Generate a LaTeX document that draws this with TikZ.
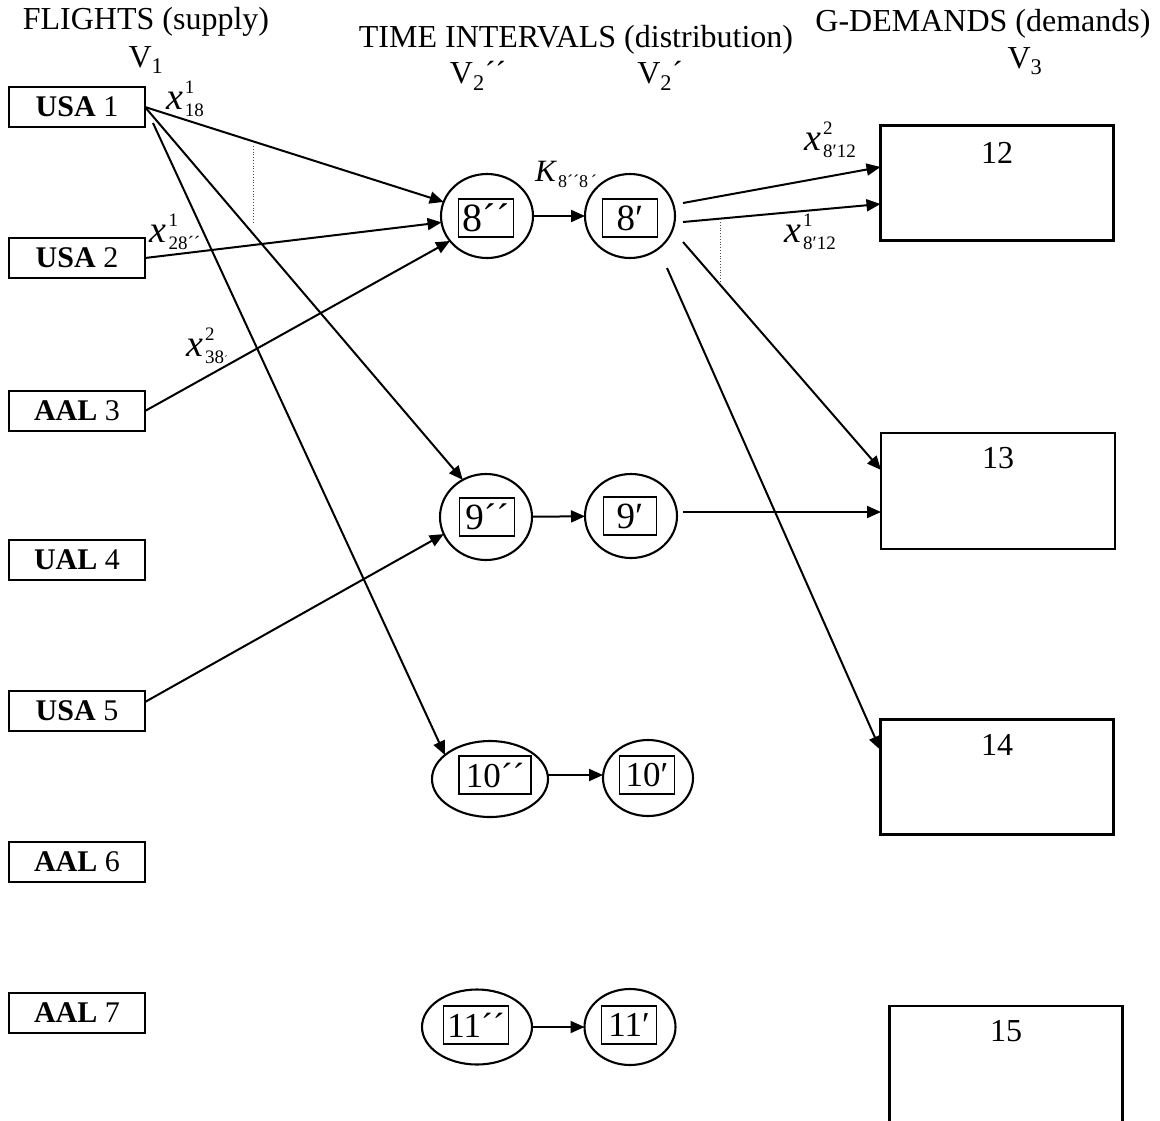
\documentclass[tikz,border=0pt]{standalone}
\usepackage{fontspec}
\setmainfont{Liberation Serif}
\usetikzlibrary{arrows.meta,shapes.geometric}

\newcommand{\fsz}[1]{\fontsize{#1}{#1}\selectfont}
\newcommand{\scr}[1]{{\fontsize{19}{20}\selectfont #1}}
\newcommand{\tinyacute}{{\fontsize{11}{11}\selectfont ´}}
% italic letter with a superscript stacked over a subscript
\newcommand{\flowvar}[3]{\textit{#1}\kern2pt\rlap{\raisebox{16pt}{\scr{#2}}}\raisebox{-7pt}{\scr{#3}}}

\tikzset{
  every node/.style={inner sep=0pt, outer sep=0pt},
  head/.style={font=\fsz{32}},
  supply/.style={draw, line width=2.1pt, minimum width=136pt, minimum height=40pt, font=\fsz{30}},
  slot/.style={ellipse, draw, line width=2.1pt},
  slotbox/.style={draw, line width=1.7pt, minimum height=38pt},
  demand/.style={draw, line width=2.1pt, minimum width=233pt, minimum height=115pt},
  demtext/.style={font=\fsz{32}},
  flow/.style={line width=2pt, -{Triangle[length=14pt,width=12pt]}},
  guide/.style={dotted, line width=0.8pt, black!70},
  lab/.style={font=\fsz{38}}
}

\begin{document}
\begin{tikzpicture}[x=1pt, y=-1pt]
\useasboundingbox (0,0) rectangle (1160,1120);
\clip (0,0) rectangle (1160,1120);

% column headings
\node[head] (hflights) at (146,22) {FLIGHTS (supply)};
\node[head] (hv1) at (146,60) {V\textsubscript{1}};
\node[head] (htime) at (576,40) {TIME INTERVALS (distribution)};
\node[head] (hv2pp) at (478,76) {V\textsubscript{2}´´};
\node[head] (hv2p) at (660,76) {V\textsubscript{2}´};
\node[head] (hdem) at (983,24) {G-DEMANDS (demands)};
\node[head] (hv3) at (1025,61) {V\textsubscript{3}};

% flights (supply)
\node[supply] (usa1) at (77,107)  {\textbf{USA} 1};
\node[supply] (usa2) at (77,258)  {\textbf{USA} 2};
\node[supply] (aal3) at (77,411)  {\textbf{AAL} 3};
\node[supply] (ual4) at (77,560)  {\textbf{UAL} 4};
\node[supply] (usa5) at (77,711)  {\textbf{USA} 5};
\node[supply] (aal6) at (77,862)  {\textbf{AAL} 6};
\node[supply] (aal7) at (77,1013) {\textbf{AAL} 7};

% time intervals
\node[slot, minimum width=92pt, minimum height=84pt] (c8pp) at (487,216) {};
\node[slotbox, minimum width=55pt, font=\fsz{40}] (b8pp) at (486,218) {8´´};
\node[slot, minimum width=90pt, minimum height=84pt] (c8p) at (630,216) {};
\node[slotbox, minimum width=55pt, font=\fsz{37}] (b8p) at (630,218) {8′};

\node[slot, minimum width=92pt, minimum height=86pt] (c9pp) at (486,517) {};
\node[slotbox, minimum width=55pt, font=\fsz{37}] (b9pp) at (487,517) {9´´};
\node[slot, minimum width=92pt, minimum height=84pt] (c9p) at (631,516) {};
\node[slotbox, minimum width=53pt, font=\fsz{37}] (b9p) at (630,516) {9′};

\node[slot, minimum width=116pt, minimum height=76pt] (c10pp) at (490,779) {};
\node[slotbox, minimum width=72pt, font=\fsz{35}] (b10pp) at (495,775) {10´´};
\node[slot, minimum width=90pt, minimum height=76pt] (c10p) at (648,778) {};
\node[slotbox, minimum width=55pt, font=\fsz{35}] (b10p) at (647,775) {10′};

\node[slot, minimum width=110pt, minimum height=75pt] (c11pp) at (477,1027) {};
\node[slotbox, minimum width=65pt, font=\fsz{35}] (b11pp) at (476,1025) {11´´};
\node[slot, minimum width=91pt, minimum height=76pt] (c11p) at (630,1027) {};
\node[slotbox, minimum width=55pt, font=\fsz{35}] (b11p) at (629,1025) {11′};

% demands
\node[demand] (box12) at (997,183) {};
\node[demand, minimum width=234pt, minimum height=116pt] (box13) at (998,491) {};
\node[demand] (box14) at (997,777) {};
\node[demand, minimum height=120pt] (box15) at (1006,1066) {};
\node[demtext] (t12) at ([shift={(0,27)}]box12.north) {12};
\node[demtext] (t13) at ([shift={(0,25)}]box13.north) {13};
\node[demtext] (t14) at ([shift={(0,25)}]box14.north) {14};
\node[demtext] (t15) at ([shift={(0,25)}]box15.north) {15};

% supply -> time intervals
\draw[flow] (usa1.east) -- (c8pp.162);
\draw[flow] (usa1.east) -- (c9pp.122);
\draw[flow] ([shift={(8,16)}]usa1.east) -- (c10pp.152);
\draw[flow] (usa2.east) -- (c8pp.188);
\draw[flow] (aal3.east) -- (c8pp.214);
\draw[flow] ([shift={(0,-9)}]usa5.east) -- (c9pp.202);

% capacity arcs
\draw[flow] (c8pp) -- (c8p);
\draw[flow] (c9pp) -- (c9p);
\draw[flow] (b10pp.center -| c10pp.east) -- (b10pp.center -| c10p.west);
\draw[flow] (c11pp) -- (c11p);

% time intervals -> demands
\draw[flow] ([shift={(53,-13)}]c8p.center) -- ([shift={(0,-16)}]box12.west);
\draw[flow] ([shift={(53,6)}]c8p.center) -- ([shift={(0,21)}]box12.west);
\draw[flow] ([shift={(53,26)}]c8p.center) -- ([shift={(0,-21)}]box13.west);
\draw[flow] ([shift={(37,52)}]c8p.center) -- ([shift={(0,-27)}]box14.west);
\draw[flow] ([shift={(52,-4)}]c9p.center) -- ([shift={(0,21)}]box13.west);

% dotted guides
\coordinate (g1a) at (253,146);
\coordinate (g1b) at (253,222);
\coordinate (g2a) at (720,222);
\coordinate (g2b) at (720,282);
\draw[guide] (g1a) -- (g1b);
\draw[guide] (g2a) -- (g2b);

% flow labels
\node[lab] (lx18) at (185,99) {\flowvar{x}{1}{18}};
\node[lab] (lx28) at (175,232) {\flowvar{x}{1}{28´´}};
\node[lab] (lx38) at (207,346) {\flowvar{x}{2}{38\tinyacute}};
\node[font=\fsz{31}] (lk) at (566,174) {\textit{K}\kern1pt\raisebox{-6pt}{\fontsize{18}{18}\selectfont 8´´8\,´}};
\node[lab] (lx812b) at (830,140) {\flowvar{x}{2}{8′12}};
\node[lab] (lx812a) at (810,232) {\flowvar{x}{1}{8′12}};
\end{tikzpicture}
\end{document}
